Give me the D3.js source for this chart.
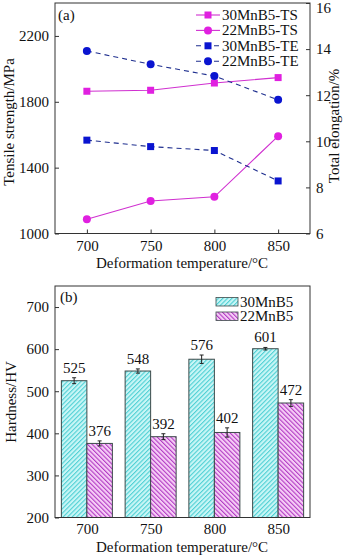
<!DOCTYPE html>
<html>
<head>
<meta charset="utf-8">
<script src="https://cdn.jsdelivr.net/npm/d3@7"></script>
<style>
  body { margin: 0; background: #fff; }
  text { font-family: "Liberation Serif", "Times New Roman", serif; fill: #111; }
</style>
</head>
<body>
<div id="chart"></div>
<script>
// Data
const temps = [700, 750, 800, 850];
const ts30 = [1864, 1870, 1914, 1947];
const ts22 = [1086, 1197, 1223, 1591];
const te30 = [10.05, 9.77, 9.6, 8.28];
const te22 = [13.92, 13.34, 12.83, 11.8];

const hv30 = [525, 548, 576, 601];
const hv30err = [7, 5, 10, 3];
const hv22 = [376, 392, 402, 472];
const hv22err = [6, 7, 11, 8];

const leftTicks = [1000, 1400, 1800, 2200];
const rightTicks = [6, 8, 10, 12, 14, 16];
const hvTicks = [200, 300, 400, 500, 600, 700];

const W = 350, H = 556;
const svg = d3.select("#chart").append("svg")
    .attr("width", W).attr("height", H);

// hatch patterns for the bars
const defs = svg.append("defs");
function hatch(id, bg, line, dir) {
    const p = defs.append("pattern")
        .attr("id", id)
        .attr("patternUnits", "userSpaceOnUse")
        .attr("width", 3.2).attr("height", 3.2)
        .attr("patternTransform", `rotate(${dir})`);
    p.append("rect").attr("width", 3.2).attr("height", 3.2).attr("fill", bg);
    p.append("rect").attr("width", 1.1).attr("height", 3.2).attr("fill", line);
}
hatch("h30", "#c9f6f6", "#4fd0d4", 45);
hatch("h22", "#f6cdf6", "#b23cc4", -45);

const fs = 15;
const fmt = d3.format("d");
const x = d3.scaleLinear().domain([675, 875]).range([55, 310]);

// ---------- panel (a) ----------
const yL = d3.scaleLinear().domain([1000, 2400]).range([233.5, 3]);
const yR = d3.scaleLinear().domain([6, 16]).range([233.5, 3]);

const gA = svg.append("g");

gA.append("g")
    .attr("transform", "translate(0,233.5)")
    .call(d3.axisBottom(x).tickValues(temps).tickFormat(fmt).tickSize(-4).tickPadding(7))
    .call(g => g.select(".domain").remove());
gA.append("g")
    .attr("transform", "translate(55,0)")
    .call(d3.axisLeft(yL).tickValues(leftTicks).tickFormat(fmt).tickSize(-4).tickPadding(6))
    .call(g => g.select(".domain").remove());
gA.append("g")
    .attr("transform", "translate(310,0)")
    .call(d3.axisRight(yR).tickValues(rightTicks).tickFormat(fmt).tickSize(-4).tickPadding(6))
    .call(g => g.select(".domain").remove())
    .call(g => g.selectAll(".tick text").filter(d => d === 16).attr("y", 5));

gA.selectAll(".tick text").attr("font-size", fs).attr("font-family", "Liberation Serif");
gA.selectAll(".tick line").attr("stroke", "#333");

gA.append("rect")
    .attr("x", 55).attr("y", 3).attr("width", 255).attr("height", 230.5)
    .attr("fill", "none").attr("stroke", "#333").attr("stroke-width", 1);

const series = [
    { name: "30MnB5-TS", vals: ts30, y: yL, color: "#e020e0", line: "#d030d0", dash: null, shape: "square" },
    { name: "22MnB5-TS", vals: ts22, y: yL, color: "#e020e0", line: "#d030d0", dash: null, shape: "circle" },
    { name: "30MnB5-TE", vals: te30, y: yR, color: "#0a14d0", line: "#1f2f8f", dash: "5,4", shape: "square" },
    { name: "22MnB5-TE", vals: te22, y: yR, color: "#0a14d0", line: "#1f2f8f", dash: "5,4", shape: "circle" }
];

function marker(g, shape, cx, cy, color) {
    if (shape === "square") {
        g.append("rect").attr("x", cx - 3.5).attr("y", cy - 3.5)
            .attr("width", 7).attr("height", 7).attr("fill", color);
    } else {
        g.append("circle").attr("cx", cx).attr("cy", cy).attr("r", 4)
            .attr("fill", color);
    }
}

series.forEach(s => {
    const line = d3.line().x((d, i) => x(temps[i])).y(d => s.y(d));
    gA.append("path").datum(s.vals)
        .attr("d", line)
        .attr("fill", "none")
        .attr("stroke", s.line)
        .attr("stroke-width", 1.1)
        .attr("stroke-dasharray", s.dash);
    s.vals.forEach((v, i) => marker(gA, s.shape, x(temps[i]), s.y(v), s.color));
});

// legend (a)
series.forEach((s, i) => {
    const ly = 15 + i * 15.4;
    gA.append("line").attr("x1", 196).attr("x2", 220).attr("y1", ly).attr("y2", ly)
        .attr("stroke", s.line).attr("stroke-width", 1.1).attr("stroke-dasharray", s.dash);
    marker(gA, s.shape, 208, ly, s.color);
    gA.append("text").attr("x", 222).attr("y", ly + 5).attr("font-size", fs).text(s.name);
});

gA.append("text").attr("x", 58).attr("y", 20).attr("font-size", fs).text("(a)");
gA.append("text").attr("x", 182).attr("y", 268).attr("text-anchor", "middle")
    .attr("font-size", fs).text("Deformation temperature/°C");
gA.append("text").attr("transform", "translate(14,122) rotate(-90)")
    .attr("text-anchor", "middle").attr("font-size", fs).text("Tensile strength/MPa");
gA.append("text").attr("transform", "translate(339,126) rotate(-90)")
    .attr("text-anchor", "middle").attr("font-size", fs).text("Total elongation/%");

// ---------- panel (b) ----------
const yH = d3.scaleLinear().domain([200, 750]).range([517.5, 286]);
const gB = svg.append("g");
const bw = x(695) - x(675);

gB.append("g")
    .attr("transform", "translate(0,517.5)")
    .call(d3.axisBottom(x).tickValues(temps).tickFormat(fmt).tickSize(0).tickPadding(6))
    .call(g => g.select(".domain").remove());
gB.append("g")
    .attr("transform", "translate(55,0)")
    .call(d3.axisLeft(yH).tickValues(hvTicks).tickFormat(fmt).tickSize(-4).tickPadding(6))
    .call(g => g.select(".domain").remove());
gB.selectAll(".tick text").attr("font-size", fs).attr("font-family", "Liberation Serif");
gB.selectAll(".tick line").attr("stroke", "#333");

const bars = [
    { name: "30MnB5", vals: hv30, err: hv30err, fill: "url(#h30)", off: -1 },
    { name: "22MnB5", vals: hv22, err: hv22err, fill: "url(#h22)", off: 0 }
];

bars.forEach(b => {
    b.vals.forEach((v, i) => {
        const bx = x(temps[i]) + b.off * bw;
        gB.append("rect")
            .attr("x", bx).attr("y", yH(v))
            .attr("width", bw).attr("height", yH(200) - yH(v))
            .attr("fill", b.fill).attr("stroke", "#3c4a4a").attr("stroke-width", 1);
        const cx = bx + bw / 2;
        const e = b.err[i];
        gB.append("line").attr("x1", cx).attr("x2", cx)
            .attr("y1", yH(v + e)).attr("y2", yH(v - e)).attr("stroke", "#222");
        [v + e, v - e].forEach(ev => gB.append("line")
            .attr("x1", cx - 2).attr("x2", cx + 2)
            .attr("y1", yH(ev)).attr("y2", yH(ev)).attr("stroke", "#222"));
        gB.append("text").attr("x", cx).attr("y", yH(v + e) - 5)
            .attr("text-anchor", "middle").attr("font-size", fs).text(v);
    });
});

gB.append("rect")
    .attr("x", 55).attr("y", 286).attr("width", 255).attr("height", 231.5)
    .attr("fill", "none").attr("stroke", "#333").attr("stroke-width", 1);

// legend (b)
bars.forEach((b, i) => {
    const ly = 297.5 + i * 14.5;
    gB.append("rect").attr("x", 216).attr("y", ly).attr("width", 22).attr("height", 8.5)
        .attr("fill", b.fill).attr("stroke", "#3c4a4a").attr("stroke-width", 0.8);
    gB.append("text").attr("x", 240).attr("y", ly + 9).attr("font-size", fs).text(b.name);
});

gB.append("text").attr("x", 60).attr("y", 302).attr("font-size", fs).text("(b)");
gB.append("text").attr("x", 182).attr("y", 552).attr("text-anchor", "middle")
    .attr("font-size", fs).text("Deformation temperature/°C");
gB.append("text").attr("transform", "translate(16,402) rotate(-90)")
    .attr("text-anchor", "middle").attr("font-size", fs).text("Hardness/HV");
</script>
</body>
</html>
